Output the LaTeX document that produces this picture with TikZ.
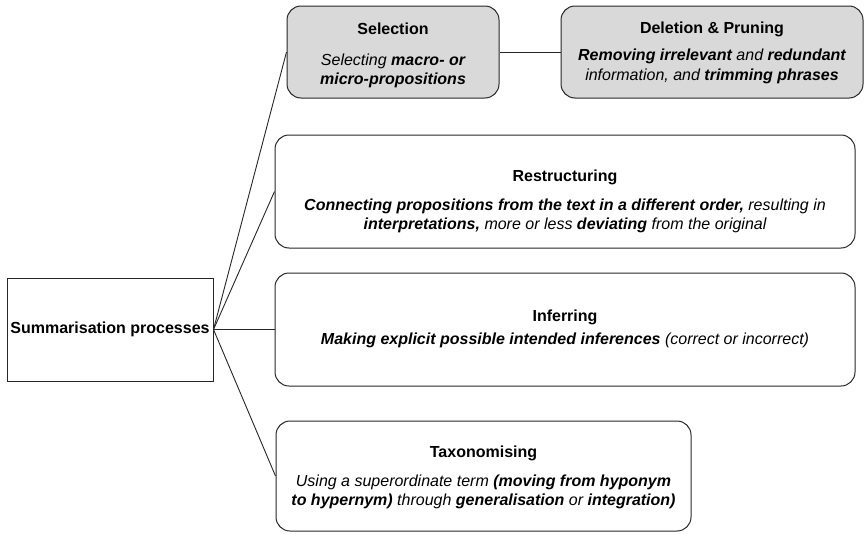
\documentclass[tikz,border=0pt]{standalone}
\usepackage{fontspec}
\setmainfont{Liberation Sans}
\begin{document}
\begin{tikzpicture}[x=1pt,y=-1pt,
  box/.style={draw=black!85, line width=1pt, rounded corners=14pt, inner sep=0pt, minimum width=#1},
  graybox/.style={box=#1, fill=black!15},
  rootbox/.style={draw=black!85, line width=1pt, align=center, inner sep=0pt,
    minimum width=206pt, minimum height=103pt, font=\fontsize{16}{19}\selectfont\bfseries},
  ttl/.style={inner sep=0pt, font=\fontsize{16}{19}\selectfont\bfseries},
  body/.style={inner sep=0pt, align=center, font=\fontsize{16}{19.5}\selectfont\itshape},
  link/.style={draw=black!85, line width=0.9pt}]
\useasboundingbox (0,0) rectangle (865,533);
\node[rootbox] (sum) at (110,329.5) {Summarisation processes};
% boxes
\node[graybox=212pt, minimum height=92pt] (sel) at (393,52) {};
\node[graybox=302pt, minimum height=92pt] (del) at (712,52) {};
\node[box=580pt, minimum height=113pt] (res) at (565,191.5) {};
\node[box=580pt, minimum height=113pt] (inf) at (565,329.5) {};
\node[box=415pt, minimum height=110pt] (tax) at (483.5,476) {};
% texts
\node[ttl] (selT) at (393,29) {Selection};
\node[body] (selB) at (393,71) {Selecting \textbf{macro- or}\\ \textbf{micro-propositions}};
\node[ttl] (delT) at (712,29) {Deletion \& Pruning};
\node[body] (delB) at (712,66.5) {\textbf{Removing irrelevant} and \textbf{redundant}\\ information, and \textbf{trimming phrases}};
\node[ttl] (resT) at (565,177) {Restructuring};
\node[body] (resB) at (565,216) {\textbf{Connecting propositions from the text in a different order,} resulting in\\ \textbf{interpretations,} more or less \textbf{deviating} from the original};
\node[ttl] (infT) at (565,317) {Inferring};
\node[body] (infB) at (565,340) {\textbf{Making explicit possible intended inferences} (correct or incorrect)};
\node[ttl] (taxT) at (483.5,453) {Taxonomising};
\node[body] (taxB) at (483.5,492) {Using a superordinate term \textbf{(moving from hyponym}\\ \textbf{to hypernym)} through \textbf{generalisation} or \textbf{integration)}};
% connectors
\draw[link] (sum.east) -- (sel.west);
\draw[link] (sum.east) -- (res.west);
\draw[link] (sum.east) -- (inf.west);
\draw[link] (sum.east) -- (tax.west);
\draw[link] (sel.east) -- (del.west);
\end{tikzpicture}
\end{document}
